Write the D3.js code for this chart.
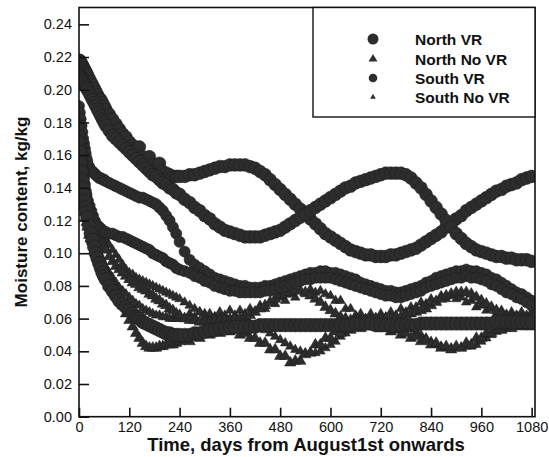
<!DOCTYPE html>
<html><head><meta charset="utf-8">
<script src="https://cdn.jsdelivr.net/npm/d3@7"></script>
<style>body{margin:0;background:#fff}svg{display:block}text{font-family:"Liberation Sans",Arial,sans-serif}</style>
</head><body><svg id="c" width="549" height="457"></svg>
<script>
const days = [0,2,4,6,8,10,12,14,16,18,20,24,28,32,36,40,44,48,52,56,60,64,72,80,88,96,104,112,120,128,136,144,152,160,168,176,184,192,200,208,216,224,232,240,252,264,276,288,300,312,324,336,348,360,372,384,396,408,420,432,444,456,468,480,492,504,516,528,540,552,564,576,588,600,612,624,636,648,660,672,684,696,708,720,732,744,756,768,780,792,804,816,828,840,852,864,876,888,900,912,924,936,948,960,972,984,996,1008,1020,1032,1044,1056,1068,1080];

const northVR_1 = [0.218,0.218,0.217,0.216,0.215,0.214,0.213,0.212,0.211,0.210,0.209,
0.207,0.205,0.203,0.201,0.199,0.197,0.195,0.194,0.192,0.190,
0.188,0.185,0.182,0.179,0.176,0.173,0.171,0.168,0.166,0.164,0.165,0.159,0.157,0.159,0.154,0.152,0.155,0.150,0.149,0.148,0.147,0.147,0.147,
0.147,0.148,0.148,0.149,0.150,0.151,0.152,0.153,0.153,0.154,
0.154,0.154,0.154,0.153,0.152,0.150,0.148,0.145,0.142,0.139,
0.136,0.133,0.130,0.127,0.124,0.121,0.118,0.115,0.112,0.110,
0.108,0.106,0.104,0.102,0.101,0.100,0.099,0.099,0.098,0.098,
0.098,0.099,0.099,0.100,0.101,0.102,0.103,0.105,0.107,0.109,
0.111,0.113,0.116,0.118,0.121,0.123,0.126,0.128,0.130,0.132,
0.134,0.136,0.138,0.139,0.141,0.142,0.143,0.145,0.146,0.147];

const northVR_2 = [0.210,0.209,0.208,0.207,0.206,0.205,0.204,0.203,0.202,0.201,0.200,
0.198,0.196,0.194,0.192,0.190,0.188,0.186,0.184,0.182,0.180,
0.178,0.175,0.172,0.170,0.168,0.166,0.164,0.162,0.160,0.158,0.156,0.154,0.152,0.150,0.148,0.147,0.145,0.143,0.142,0.140,0.139,0.137,0.136,
0.133,0.131,0.128,0.126,0.123,0.121,0.118,0.116,0.114,0.113,
0.112,0.111,0.110,0.110,0.110,0.110,0.111,0.112,0.113,0.114,
0.116,0.118,0.120,0.122,0.124,0.126,0.128,0.130,0.132,0.134,
0.136,0.138,0.140,0.141,0.143,0.144,0.145,0.146,0.147,0.148,
0.149,0.149,0.149,0.149,0.148,0.146,0.143,0.140,0.136,0.132,
0.128,0.124,0.120,0.116,0.112,0.109,0.106,0.104,0.102,0.101,
0.100,0.099,0.098,0.098,0.097,0.097,0.096,0.096,0.096,0.095];

const northVR_3 = [0.168,0.162,0.156,0.150,0.145,0.140,0.136,0.132,0.128,0.125,0.122,
0.117,0.112,0.108,0.104,0.100,0.097,0.094,0.091,0.088,0.086,
0.084,0.080,0.077,0.074,0.071,0.069,0.067,0.065,0.063,0.061,0.060,0.058,0.057,0.056,0.055,0.054,0.053,0.052,0.051,0.051,0.050,0.050,0.050,
0.050,0.050,0.051,0.051,0.052,0.053,0.053,0.054,0.054,0.055,
0.055,0.055,0.055,0.055,0.055,0.056,0.056,0.056,0.056,0.056,
0.056,0.056,0.056,0.056,0.056,0.056,0.056,0.056,0.056,0.056,
0.056,0.056,0.056,0.056,0.057,0.057,0.057,0.057,0.056,0.056,
0.056,0.056,0.056,0.056,0.056,0.056,0.056,0.057,0.057,0.057,
0.057,0.057,0.057,0.057,0.057,0.057,0.057,0.057,0.057,0.057,
0.057,0.057,0.058,0.058,0.058,0.058,0.058,0.058,0.058,0.058];

const southVR_1 = [0.190,0.186,0.182,0.178,0.174,0.170,0.167,0.164,0.161,0.158,0.156,
0.153,0.151,0.150,0.149,0.148,0.147,0.146,0.146,0.145,0.145,
0.144,0.143,0.142,0.141,0.140,0.139,0.138,0.137,0.136,0.135,0.134,0.134,0.133,0.132,0.131,0.130,0.128,0.126,0.123,0.120,0.116,0.112,0.107,
0.101,0.096,0.093,0.091,0.089,0.087,0.085,0.084,0.083,0.082,
0.081,0.080,0.080,0.079,0.079,0.079,0.080,0.080,0.081,0.082,
0.083,0.084,0.085,0.086,0.087,0.088,0.088,0.089,0.089,0.088,
0.088,0.087,0.086,0.085,0.084,0.082,0.081,0.080,0.079,0.078,
0.077,0.077,0.076,0.076,0.077,0.078,0.079,0.080,0.082,0.083,
0.085,0.086,0.087,0.088,0.089,0.089,0.090,0.089,0.089,0.088,
0.087,0.085,0.084,0.082,0.080,0.078,0.076,0.075,0.073,0.071];

const southVR_2 = [0.178,0.172,0.166,0.160,0.155,0.150,0.146,0.142,0.138,0.135,0.132,
0.128,0.125,0.122,0.120,0.118,0.117,0.116,0.115,0.114,0.113,
0.113,0.112,0.112,0.111,0.110,0.110,0.109,0.108,0.107,0.106,0.105,0.104,0.103,0.102,0.100,0.099,0.098,0.097,0.095,0.094,0.093,0.091,0.090,
0.089,0.088,0.086,0.085,0.083,0.082,0.080,0.079,0.078,0.077,
0.077,0.076,0.076,0.076,0.076,0.076,0.077,0.077,0.078,0.079,
0.080,0.081,0.082,0.083,0.084,0.084,0.085,0.085,0.085,0.085,
0.084,0.083,0.082,0.081,0.080,0.079,0.078,0.077,0.076,0.075,
0.074,0.074,0.073,0.073,0.074,0.075,0.076,0.077,0.079,0.080,
0.081,0.082,0.083,0.084,0.085,0.085,0.086,0.085,0.085,0.084,
0.083,0.081,0.080,0.078,0.076,0.075,0.073,0.072,0.070,0.068];

const northNoVR_1 = [0.150,0.146,0.142,0.138,0.134,0.131,0.128,0.125,0.122,0.119,0.116,
0.111,0.109,0.107,0.105,0.103,0.101,0.099,0.097,0.094,0.092,
0.090,0.086,0.081,0.077,0.072,0.068,0.063,0.059,0.055,0.051,0.048,0.045,0.043,0.042,0.042,0.042,0.043,0.043,0.044,0.044,0.044,0.045,0.046,
0.047,0.046,0.049,0.048,0.051,0.050,0.053,0.051,0.053,0.052,
0.053,0.050,0.051,0.048,0.048,0.045,0.045,0.041,0.041,0.037,
0.037,0.033,0.034,0.034,0.038,0.039,0.044,0.044,0.048,0.048,
0.052,0.051,0.054,0.053,0.055,0.054,0.056,0.055,0.056,0.054,
0.055,0.052,0.053,0.050,0.051,0.048,0.049,0.046,0.047,0.044,
0.045,0.042,0.043,0.041,0.043,0.042,0.045,0.044,0.048,0.048,
0.051,0.051,0.053,0.053,0.055,0.054,0.056,0.055,0.056,0.055];

const northNoVR_2 = [0.160,0.155,0.151,0.147,0.143,0.140,0.137,0.134,0.131,0.129,0.127,
0.124,0.121,0.119,0.117,0.114,0.112,0.110,0.108,0.106,0.104,
0.102,0.098,0.095,0.092,0.090,0.088,0.086,0.084,0.082,0.081,0.079,0.078,0.077,0.075,0.074,0.072,0.071,0.069,0.068,0.066,0.065,0.063,0.062,
0.060,0.059,0.059,0.058,0.058,0.058,0.059,0.059,0.059,0.059,
0.060,0.060,0.061,0.062,0.064,0.066,0.068,0.070,0.072,0.074,
0.075,0.076,0.077,0.077,0.076,0.074,0.072,0.070,0.067,0.065,
0.063,0.061,0.060,0.059,0.059,0.059,0.059,0.059,0.060,0.060,
0.060,0.060,0.061,0.061,0.062,0.063,0.064,0.065,0.066,0.068,
0.070,0.072,0.074,0.075,0.076,0.076,0.076,0.075,0.073,0.071,
0.069,0.067,0.065,0.063,0.062,0.061,0.061,0.060,0.060,0.060];

const southNoVR_1 = [0.172,0.167,0.163,0.159,0.155,0.151,0.148,0.145,0.142,0.140,0.138,
0.134,0.131,0.128,0.125,0.122,0.119,0.117,0.114,0.112,0.110,
0.108,0.105,0.102,0.099,0.096,0.093,0.090,0.088,0.087,0.085,0.084,0.083,0.082,0.081,0.080,0.079,0.078,0.077,0.076,0.075,0.074,0.073,0.072,
0.070,0.068,0.066,0.064,0.063,0.062,0.061,0.061,0.060,0.060,
0.059,0.059,0.058,0.057,0.056,0.055,0.053,0.051,0.049,0.047,
0.045,0.043,0.041,0.040,0.039,0.039,0.039,0.040,0.042,0.044,
0.046,0.049,0.051,0.053,0.055,0.057,0.058,0.059,0.059,0.059,
0.059,0.058,0.057,0.056,0.055,0.054,0.052,0.050,0.048,0.046,
0.044,0.043,0.042,0.042,0.042,0.042,0.043,0.043,0.044,0.046,
0.048,0.050,0.052,0.053,0.054,0.055,0.056,0.057,0.057,0.058];

const southNoVR_2 = [0.158,0.153,0.148,0.144,0.140,0.136,0.133,0.130,0.127,0.124,0.121,
0.117,0.113,0.110,0.107,0.104,0.101,0.099,0.097,0.095,0.093,
0.091,0.088,0.085,0.082,0.079,0.077,0.075,0.073,0.071,0.069,0.068,0.066,0.065,0.064,0.063,0.062,0.062,0.061,0.061,0.060,0.060,0.060,0.060,
0.060,0.063,0.061,0.064,0.061,0.063,0.061,0.064,0.062,0.065,
0.062,0.065,0.063,0.066,0.064,0.068,0.066,0.070,0.069,0.073,
0.071,0.075,0.073,0.077,0.075,0.078,0.076,0.077,0.075,0.074,
0.071,0.071,0.066,0.066,0.062,0.063,0.060,0.063,0.060,0.063,
0.061,0.064,0.062,0.066,0.064,0.067,0.067,0.070,0.069,0.072,
0.071,0.074,0.072,0.074,0.072,0.073,0.070,0.071,0.067,0.068,
0.065,0.066,0.063,0.065,0.062,0.064,0.062,0.064,0.062,0.064];

const xTicks = [0,120,240,360,480,600,720,840,960,1080];
const yTicks = [0,0.02,0.04,0.06,0.08,0.10,0.12,0.14,0.16,0.18,0.20,0.22,0.24];
const legendLabels = ["North VR","North No VR","South VR","South No VR"];

const svg = d3.select("#c");
const L = 79, R = 535, T = 7.5, B = 416.7;
const x = d3.scaleLinear().domain([0,1088]).range([L,R]);
const y = d3.scaleLinear().domain([0,0.25]).range([B,T+0.5]);
const ink = "#2d2d2d", edge = "#1c1c1c";

svg.append("defs").append("clipPath").attr("id","pc")
  .append("rect").attr("x",L).attr("y",T).attr("width",R-L).attr("height",B-T);
const g = svg.append("g").attr("clip-path","url(#pc)");

function pts(vals){ return days.map((d,i)=>({d, v: vals[i]})); }
function tri(layer, vals, area){
  layer.selectAll(null).data(pts(vals)).join("path")
    .attr("d", d3.symbol(d3.symbolTriangle).size(area))
    .attr("transform", p=>`translate(${x(p.d)},${y(p.v)})`)
    .attr("fill", ink).attr("stroke", edge).attr("stroke-width",0.5);
}
function circ(layer, vals, r){
  layer.selectAll(null).data(pts(vals)).join("circle")
    .attr("cx", p=>x(p.d)).attr("cy", p=>y(p.v)).attr("r", r)
    .attr("fill", ink).attr("stroke", edge).attr("stroke-width",0.5);
}
tri(g, southNoVR_1, 40); tri(g, southNoVR_2, 40);
tri(g, northNoVR_1, 55); tri(g, northNoVR_2, 55);
circ(g, southVR_1, 5.6); circ(g, southVR_2, 5.6);
circ(g, northVR_3, 6.8); circ(g, northVR_1, 6.4); circ(g, northVR_2, 6.4);

// frame
svg.append("rect").attr("x",L).attr("y",T).attr("width",R-L).attr("height",B-T)
  .attr("fill","none").attr("stroke","#111").attr("stroke-width",1.6);

// axes with inward ticks
const xa = svg.append("g").attr("transform",`translate(0,${B})`)
  .call(d3.axisBottom(x).tickValues(xTicks).tickSize(-9).tickPadding(5).tickFormat(d3.format("d")));
const ya = svg.append("g").attr("transform",`translate(${L},0)`)
  .call(d3.axisLeft(y).tickValues(yTicks).tickSize(-10).tickPadding(7).tickFormat(d3.format(".2f")));
[xa,ya].forEach(a=>{
  a.select(".domain").remove();
  a.selectAll(".tick line").attr("stroke","#111").attr("stroke-width",1.6);
  a.selectAll(".tick text").attr("fill","#111").style("font-size","14.5px");
});

// titles
svg.append("text").attr("x",306).attr("y",451).attr("text-anchor","middle")
  .style("font-size","18.5px").style("font-weight","bold").attr("fill","#111")
  .text("Time, days from August1st onwards");
svg.append("text").attr("transform","translate(27,212) rotate(-90)").attr("text-anchor","middle")
  .style("font-size","17px").style("font-weight","bold").attr("fill","#111")
  .text("Moisture content, kg/kg");

// legend
const lg = svg.append("g");
lg.append("rect").attr("x",313).attr("y",T).attr("width",R-313).attr("height",117-T)
  .attr("fill","#fff").attr("stroke","#111").attr("stroke-width",1.4);
const rowsY = [39,59,78,97];
const sx = 373;
lg.append("circle").attr("cx",sx).attr("cy",rowsY[0]).attr("r",5.5).attr("fill",ink);
lg.append("path").attr("d",d3.symbol(d3.symbolTriangle).size(34)).attr("transform",`translate(${sx},${rowsY[1]})`).attr("fill",ink);
lg.append("circle").attr("cx",sx).attr("cy",rowsY[2]).attr("r",4.3).attr("fill",ink);
lg.append("path").attr("d",d3.symbol(d3.symbolTriangle).size(14)).attr("transform",`translate(${sx},${rowsY[3]})`).attr("fill",ink);
lg.selectAll("text.l").data(legendLabels).join("text").attr("class","l")
  .attr("x",415).attr("y",(d,i)=>rowsY[i]+5.5).text(d=>d)
  .style("font-size","15.5px").style("font-weight","bold").attr("fill","#111");
</script></body></html>
